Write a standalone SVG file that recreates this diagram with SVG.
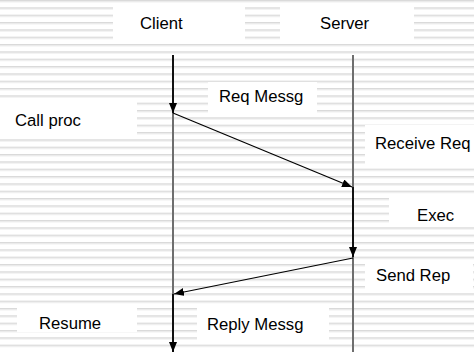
<svg xmlns="http://www.w3.org/2000/svg" width="474" height="352" viewBox="0 0 474 352">
<defs>
<pattern id="stripes" x="0" y="0" width="10" height="7.333" patternUnits="userSpaceOnUse">
<rect x="0" y="0" width="10" height="7.333" fill="#ffffff"/>
<rect x="0" y="0" width="10" height="1" fill="#d9d9d9"/>
<rect x="0" y="1" width="10" height="1.2" fill="#e8e8e8"/>
</pattern>
<marker id="ah" viewBox="0 0 10 8" refX="10" refY="4" markerWidth="10" markerHeight="8" markerUnits="userSpaceOnUse" orient="auto">
<path d="M0,0 L10,4 L0,8 Z" fill="#000"/>
</marker>
<style>
.box{fill:#ffffff;stroke:none}
.t{font-family:"Liberation Sans",Arial,sans-serif;font-size:16.7px;fill:#000}
.life{stroke:#6e6e6e;stroke-width:2;fill:none}
.act{stroke:#111;stroke-width:2;fill:none}
.msg{stroke:#000;stroke-width:1.2;fill:none}
</style>
</defs>
<rect x="0" y="0" width="474" height="352" fill="url(#stripes)"/>
<g id="client">
<rect class="box" x="113" y="7" width="132" height="33"/>
<text class="t" x="140" y="29">Client</text>
</g>
<g id="server">
<rect class="box" x="280" y="7" width="134" height="33"/>
<text class="t" x="320" y="29">Server</text>
</g>
<g id="call-proc">
<rect class="box" x="0" y="100" width="137" height="38"/>
<text class="t" x="15" y="126">Call proc</text>
</g>
<g id="req-messg">
<rect class="box" x="208" y="82" width="109" height="34"/>
<text class="t" x="219" y="102">Req Messg</text>
</g>
<g id="receive-req">
<rect class="box" x="365" y="125" width="109" height="42"/>
<text class="t" x="375" y="149">Receive Req</text>
</g>
<g id="exec">
<rect class="box" x="389" y="198" width="85" height="25"/>
<text class="t" x="417" y="221">Exec</text>
</g>
<g id="send-rep">
<rect class="box" x="365" y="260" width="108" height="33"/>
<text class="t" x="376" y="281">Send Rep</text>
</g>
<g id="resume">
<rect class="box" x="17" y="307" width="120" height="25"/>
<text class="t" x="39" y="329">Resume</text>
</g>
<g id="reply-messg">
<rect class="box" x="197" y="307" width="132" height="33"/>
<text class="t" x="207" y="330">Reply Messg</text>
</g>
<g id="connectors">
<line class="life" x1="173" y1="113" x2="173" y2="294"/>
<line class="life" x1="353" y1="55" x2="353" y2="187"/>
<line class="life" x1="353" y1="257" x2="353" y2="352"/>
<line class="act" x1="173" y1="55" x2="173" y2="113" marker-end="url(#ah)"/>
<line class="act" x1="353" y1="187" x2="353" y2="257" marker-end="url(#ah)"/>
<line class="act" x1="173" y1="294" x2="173" y2="352" marker-end="url(#ah)"/>
<line class="msg" x1="173" y1="113" x2="352" y2="187" marker-end="url(#ah)"/>
<line class="msg" x1="353" y1="258" x2="174" y2="294" marker-end="url(#ah)"/>
</g>
</svg>
